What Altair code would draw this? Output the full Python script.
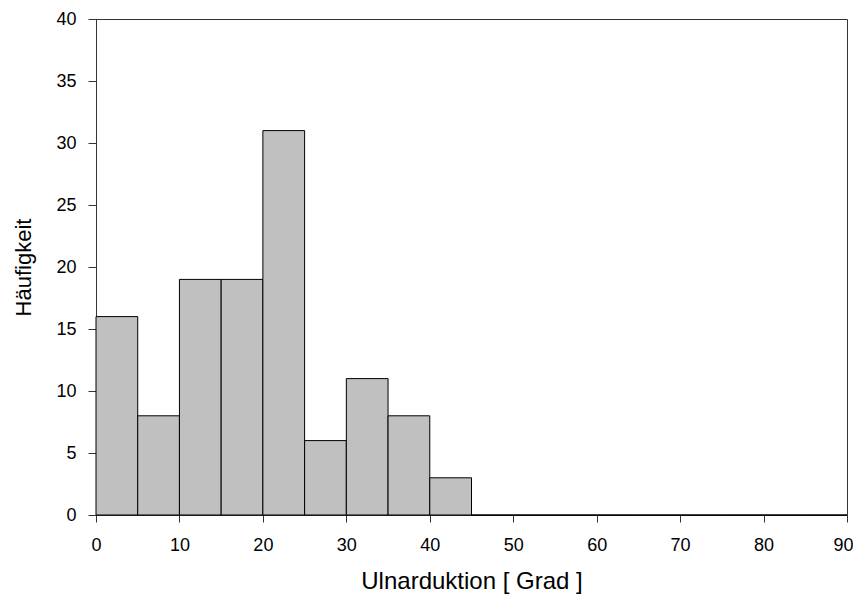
import altair as alt
import pandas as pd

bin_start = [0, 5, 10, 15, 20, 25, 30, 35, 40, 45, 50, 55, 60, 65, 70, 75, 80, 85]
counts = [16, 8, 19, 19, 31, 6, 11, 8, 3, 0, 0, 0, 0, 0, 0, 0, 0, 0]

df = pd.DataFrame({"start": bin_start, "end": [s + 5 for s in bin_start], "count": counts})

font = "Liberation Sans"

chart = alt.Chart(df).mark_rect(fill="#c0c0c0", stroke="black", strokeWidth=1).encode(
    x=alt.X("start:Q", scale=alt.Scale(domain=[0, 90], nice=False),
            axis=alt.Axis(title="Ulnarduktion [ Grad ]", values=list(range(0, 91, 10)),
                          grid=False, tickSize=7, labelPadding=14, titlePadding=15,
                          labelFontSize=18, titleFontSize=24, labelFont=font, titleFont=font,
                          titleFontWeight="normal", labelColor="black", titleColor="black",
                          domainColor="#333", tickColor="#333", labelFlush=False,
                          labelOffset=alt.ExprRef("datum.value == 90 ? -4 : 0"))),
    x2="end:Q",
    y=alt.Y("count:Q", scale=alt.Scale(domain=[0, 40], nice=False),
            axis=alt.Axis(title="Häufigkeit", values=list(range(0, 41, 5)),
                          grid=False, tickSize=8, labelPadding=12, titlePadding=20,
                          labelFontSize=18, titleFontSize=22, labelFont=font, titleFont=font,
                          titleFontWeight="normal", labelColor="black", titleColor="black",
                          domainColor="#333", tickColor="#333", labelFlush=False)),
    y2=alt.datum(0),
).properties(
    width=751, height=496,
    autosize=alt.AutoSizeParams(type="none"),
    padding={"left": 88, "top": 11, "right": 6, "bottom": 84},
).configure_view(stroke="#333", strokeWidth=1)

chart.save("out.html", embed_options={"renderer": "svg", "actions": False})
